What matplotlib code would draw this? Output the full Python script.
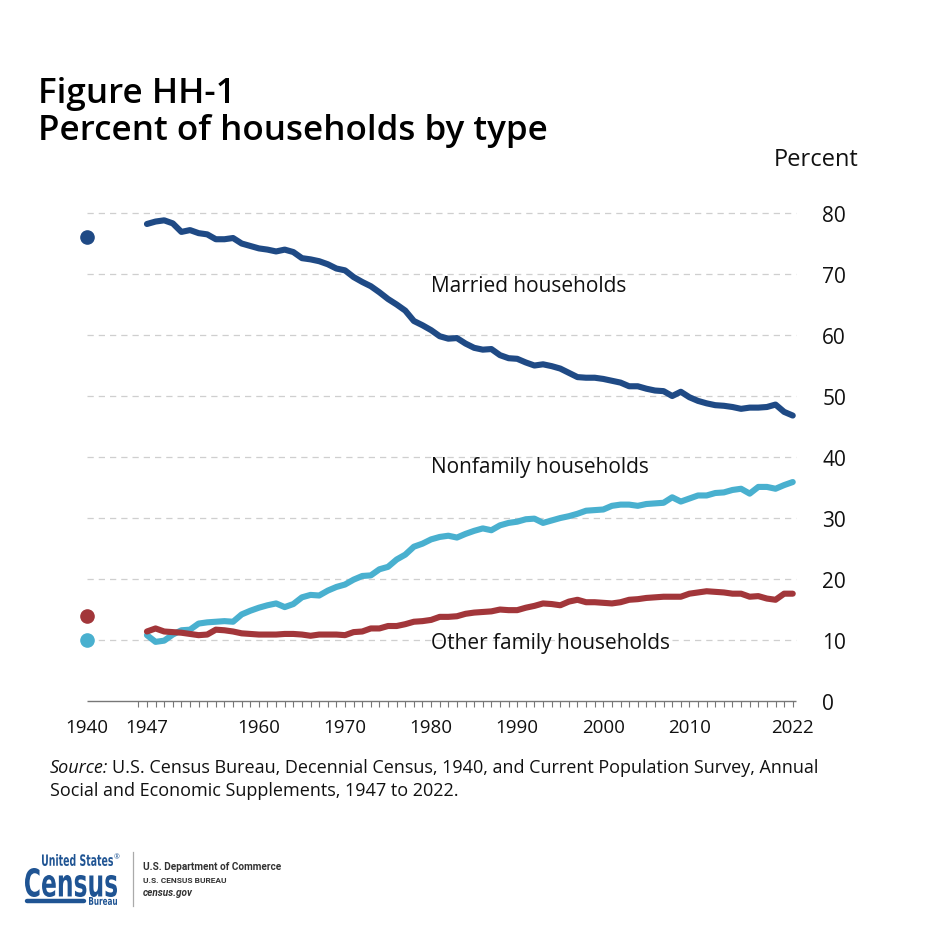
import matplotlib
matplotlib.use("Agg")
import matplotlib.pyplot as plt
from matplotlib.textpath import TextPath
from matplotlib.patches import PathPatch
from matplotlib.font_manager import FontProperties
from matplotlib.transforms import Affine2D
from matplotlib.lines import Line2D

plt.rcParams['font.family'] = ['Open Sans', 'DejaVu Sans']

# data
years = list(range(1947, 2023))

married = [78.2, 78.6, 78.8, 78.3, 76.9, 77.2, 76.7, 76.5, 75.7, 75.7,
           75.9, 75.0, 74.6, 74.2, 74.0, 73.7, 74.0, 73.6, 72.6, 72.4,
           72.1, 71.6, 70.9, 70.6, 69.5, 68.7, 68.0, 67.0, 65.9, 65.0,
           64.0, 62.3, 61.6, 60.8, 59.8, 59.4, 59.5, 58.6, 57.9, 57.6,
           57.7, 56.7, 56.2, 56.1, 55.5, 55.0, 55.2, 54.9, 54.5, 53.8,
           53.1, 53.0, 53.0, 52.8, 52.5, 52.2, 51.6, 51.6, 51.2, 50.9,
           50.8, 50.0, 50.7, 49.8, 49.2, 48.8, 48.5, 48.4, 48.2, 47.9,
           48.1, 48.1, 48.2, 48.6, 47.4, 46.8]

nonfamily = [10.8, 9.7, 9.9, 10.9, 11.6, 11.7, 12.7, 12.9, 13.0, 13.1,
             13.0, 14.2, 14.8, 15.3, 15.7, 16.0, 15.4, 15.9, 17.0, 17.4,
             17.3, 18.1, 18.7, 19.1, 19.9, 20.5, 20.6, 21.6, 22.0, 23.2,
             24.0, 25.3, 25.8, 26.5, 26.9, 27.1, 26.8, 27.4, 27.9, 28.3,
             28.0, 28.8, 29.2, 29.4, 29.8, 29.9, 29.2, 29.6, 30.0, 30.3,
             30.7, 31.2, 31.3, 31.4, 32.0, 32.2, 32.2, 32.0, 32.3, 32.4,
             32.5, 33.4, 32.7, 33.2, 33.7, 33.7, 34.1, 34.2, 34.6, 34.8,
             34.0, 35.1, 35.1, 34.8, 35.4, 35.9]

other_family = [11.4, 11.9, 11.4, 11.3, 11.2, 11.0, 10.8, 10.9, 11.7, 11.6,
                11.4, 11.1, 11.0, 10.9, 10.9, 10.9, 11.0, 11.0, 10.9, 10.7,
                10.9, 10.9, 10.9, 10.8, 11.3, 11.4, 11.9, 11.9, 12.3, 12.3,
                12.6, 13.0, 13.1, 13.3, 13.8, 13.8, 13.9, 14.3, 14.5, 14.6,
                14.7, 15.0, 14.9, 14.9, 15.3, 15.6, 16.0, 15.9, 15.7, 16.3,
                16.6, 16.2, 16.2, 16.1, 16.0, 16.2, 16.6, 16.7, 16.9, 17.0,
                17.1, 17.1, 17.1, 17.6, 17.8, 18.0, 17.9, 17.8, 17.6, 17.6,
                17.1, 17.2, 16.8, 16.6, 17.6, 17.6]

# 1940 decennial census values
year_1940 = 1940
married_1940 = 76
nonfamily_1940 = 10
other_1940 = 14

tick_years = [1940, 1947, 1960, 1970, 1980, 1990, 2000, 2010, 2022]
y_ticks = [0, 10, 20, 30, 40, 50, 60, 70, 80]

c_married = '#1f4a85'
c_nonfam = '#49b0cf'
c_other = '#a2363a'
grey = '#777777'

fig = plt.figure(figsize=(9.26, 9.29), dpi=100)
ax = fig.add_axes([0.0843, 0.2443, 0.7811, 0.5516])
ax.set_xlim(1939, 2023)
ax.set_ylim(0, 84)

# dashed grid and the base line
ax.hlines(y_ticks[1:], 1940, 2022.4, colors='#cfcfcf', linestyles=(0, (5, 4)), lw=0.9, zorder=1)
ax.hlines(0, 1940, 2022.4, colors=grey, lw=1.0, clip_on=False, zorder=2)

for vals, col in [(married, c_married), (nonfamily, c_nonfam), (other_family, c_other)]:
    ax.plot(years, vals, color=col, lw=4.4, solid_capstyle='round', solid_joinstyle='round', zorder=3)
ax.plot([year_1940], [married_1940], 'o', color=c_married, ms=9.5, zorder=4)
ax.plot([year_1940], [nonfamily_1940], 'o', color=c_nonfam, ms=9.5, zorder=4)
ax.plot([year_1940], [other_1940], 'o', color=c_other, ms=9.5, zorder=4)

ax.text(1980, 68.1, 'Married households', fontsize=15, va='center', ha='left', color='#111111')
ax.text(1980, 38.5, 'Nonfamily households', fontsize=15, va='center', ha='left', color='#111111')
ax.text(1980, 9.6, 'Other family households', fontsize=15, va='center', ha='left', color='#111111')

for s in ax.spines.values():
    s.set_visible(False)

ax.xaxis.remove_overlapping_locs = False
ax.set_xticks(tick_years)
ax.set_xticklabels([str(t) for t in tick_years])
ax.set_xticks(range(1946, 2023), minor=True)
ax.tick_params(axis='x', which='major', length=0, pad=12, labelsize=13.5, labelcolor='#111111')
ax.tick_params(axis='x', which='minor', length=4.5, width=0.8, color=grey, direction='out')

ax.yaxis.tick_right()
ax.set_yticks(y_ticks)
ax.tick_params(axis='y', length=0, pad=15, labelsize=15, labelcolor='#111111')

# titles
fig.text(38 / 926, 1 - 103 / 929, 'Figure HH-1', fontsize=25.2, fontweight='semibold', va='baseline', ha='left')
fig.text(38 / 926, 1 - 140 / 929, 'Percent of households by type', fontsize=25.2, fontweight='semibold',
         va='baseline', ha='left')
fig.text(774 / 926, 1 - 166 / 929, 'Percent', fontsize=17, va='baseline', ha='left', color='#111111')

# source note
fig.canvas.draw()
renderer = fig.canvas.get_renderer()
t_src = fig.text(50 / 926, 1 - 773 / 929, 'Source:', fontsize=13, style='italic', va='baseline', ha='left',
                 color='#111111')
bb = t_src.get_window_extent(renderer)
fig.text((bb.x1 + 4) / 926, 1 - 773 / 929,
         'U.S. Census Bureau, Decennial Census, 1940, and Current Population Survey, Annual',
         fontsize=13, va='baseline', ha='left', color='#111111')
fig.text(50 / 926, 1 - 796 / 929, 'Social and Economic Supplements, 1947 to 2022.',
         fontsize=13, va='baseline', ha='left', color='#111111')

# census logo
logo_blue = '#1f5493'
H = 929


def fit_text(s, x0, top, x1, bottom, color, weight='bold', style='normal', family='Liberation Sans Narrow'):
    fp = FontProperties(family=[family, 'DejaVu Sans'], weight=weight, style=style)
    path = TextPath((0, 0), s, size=1, prop=fp)
    ext = path.get_extents()
    sx = (x1 - x0) / ext.width
    sy = (bottom - top) / ext.height
    tr = Affine2D().translate(-ext.x0, -ext.y0).scale(sx, sy).translate(x0, H - bottom)
    fig.add_artist(PathPatch(path, transform=tr, facecolor=color, edgecolor='none'))


fit_text('United States', 42, 855, 113, 867, logo_blue)
fig.text(114 / 926, 1 - 858 / 929, '®', fontsize=5, color=logo_blue, va='center', ha='left')
fit_text('Census', 25, 869, 117, 898, logo_blue)
fig.add_artist(Line2D([27 / 926, 84 / 926], [1 - 902 / 929, 1 - 902 / 929],
                      transform=fig.transFigure, color=logo_blue, lw=3.2, solid_capstyle='round'))
fit_text('Bureau', 89, 898, 117, 906, logo_blue)
fig.add_artist(Line2D([133 / 926, 133 / 926], [1 - 853 / 929, 1 - 907 / 929],
                      transform=fig.transFigure, color='#aaaaaa', lw=0.9))
fig.text(143 / 926, 1 - 867 / 929, 'U.S. Department of Commerce', fontsize=7.2, fontweight='semibold',
         color='#333333', va='center', ha='left', family=['Roboto', 'DejaVu Sans'])
fig.text(143 / 926, 1 - 881 / 929, 'U.S. CENSUS BUREAU', fontsize=6, fontweight='semibold',
         color='#333333', va='center', ha='left', family=['Roboto', 'DejaVu Sans'])
fig.text(143 / 926, 1 - 893 / 929, 'census.gov', fontsize=7.2, fontweight='semibold', style='italic',
         color='#333333', va='center', ha='left', family=['Roboto', 'DejaVu Sans'])

fig.savefig('out.png', dpi=100, facecolor='white')
